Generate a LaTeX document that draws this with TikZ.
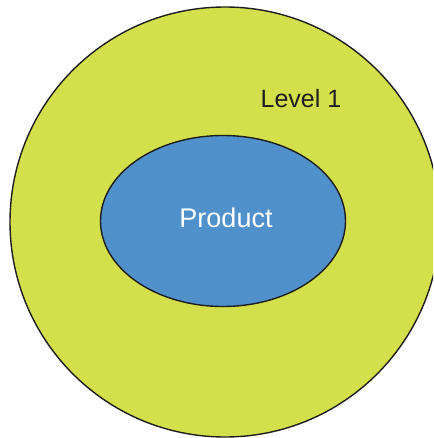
\documentclass[tikz,border=0pt]{standalone}
\usepackage{fontspec}
\usetikzlibrary{shapes.geometric}
\setmainfont{Liberation Sans}
\definecolor{levelgreen}{RGB}{212,224,75}
\definecolor{prodblue}{RGB}{80,144,203}
\definecolor{inkblack}{RGB}{30,30,30}
\begin{document}
\begin{tikzpicture}[x=1pt,y=-1pt,
  ring/.style={draw=inkblack,line width=1.4pt},
  lbl/.style={inner sep=0pt,anchor=center}]
\useasboundingbox (0,0) rectangle (433,438);
\begin{scope}
\clip (0,0) rectangle (433,438);
\fill[levelgreen] (225,222) circle [radius=215];
\draw[ring] (225,222) circle [radius=215];
\end{scope}
\node[ring,fill=prodblue,ellipse,minimum width=245pt,minimum height=171pt,inner sep=0pt] (prod) at (223,221) {};
\node[lbl,text=inkblack,font=\fontsize{25}{30}\selectfont] (lvl) at (301,99) {Level 1};
\node[lbl,text=white,font=\fontsize{27}{32}\selectfont] (ptxt) at (226,218) {Product};
\end{tikzpicture}
\end{document}
